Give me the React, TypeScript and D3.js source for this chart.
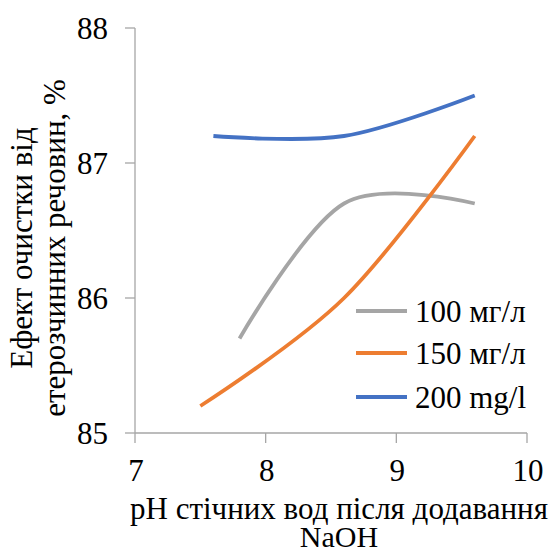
import React from "react";
import * as d3 from "d3";

const xTicks = [7, 8, 9, 10];
const yTicks = [85, 86, 87, 88];

const seriesNames = ["100 мг/л", "150 мг/л", "200 mg/l"];
const seriesColors = ["#A5A5A5", "#ED7D31", "#4472C4"];

const phGray = [7.8, 8.6, 9.6];
const valGray = [85.7, 86.7, 86.7];
const phOrange = [7.5, 8.6, 9.6];
const valOrange = [85.2, 86.0, 87.2];
const phBlue = [7.6, 8.6, 9.6];
const valBlue = [87.2, 87.2, 87.5];

const xTitle = ["pH стічних вод після додавання", "NaOH"];
const yTitle = ["Ефект очистки від", "етерозчинних речовин, %"];

const W = 556;
const H = 550;
const left = 135;
const right = 527;
const top = 28;
const bottom = 433;
const font = '"Liberation Serif", Tinos, "Times New Roman", "DejaVu Serif", serif';
const axisColor = "#A6A6A6";

const tStyle: React.CSSProperties = { fontFamily: font, fontSize: 31, fill: "#000" };

export default function App() {
  const x = d3.scaleLinear().domain([7, 10]).range([left, right]);
  const y = d3.scaleLinear().domain([85, 88]).range([bottom, top]);
  const line = d3
    .line<[number, number]>()
    .x((d) => x(d[0]))
    .y((d) => y(d[1]))
    .curve(d3.curveCardinal.tension(0));

  const series = [
    phGray.map((p, i) => [p, valGray[i]] as [number, number]),
    phOrange.map((p, i) => [p, valOrange[i]] as [number, number]),
    phBlue.map((p, i) => [p, valBlue[i]] as [number, number]),
  ];

  const legendX = 356;
  const legendY = [311, 353, 397];

  return (
    <svg
      width={W}
      height={H}
      style={{ position: "absolute", left: 0, top: 0, background: "#fff" }}
    >
      <rect x={0} y={0} width={W} height={H} fill="#fff" />
      <line x1={left} x2={left} y1={top} y2={bottom} stroke={axisColor} strokeWidth={1.3} />
      <line x1={left} x2={right} y1={bottom} y2={bottom} stroke={axisColor} strokeWidth={1.3} />
      {yTicks.map((t) => (
        <g key={"y" + t}>
          <line x1={left - 10} x2={left} y1={y(t)} y2={y(t)} stroke={axisColor} strokeWidth={1.3} />
          <text x={108} y={y(t) + 11} textAnchor="end" style={tStyle}>
            {t}
          </text>
        </g>
      ))}
      {xTicks.map((t) => (
        <g key={"x" + t}>
          <line x1={x(t)} x2={x(t)} y1={bottom} y2={bottom + 10} stroke={axisColor} strokeWidth={1.3} />
          <text x={x(t) + 1} y={481} textAnchor="middle" style={tStyle}>
            {t}
          </text>
        </g>
      ))}
      {series.map((s, i) => (
        <path
          key={"s" + i}
          d={line(s) || ""}
          fill="none"
          stroke={seriesColors[i]}
          strokeWidth={3.8}
        />
      ))}
      {seriesNames.map((n, i) => (
        <g key={"l" + i}>
          <line
            x1={legendX}
            x2={legendX + 51}
            y1={legendY[i]}
            y2={legendY[i]}
            stroke={seriesColors[i]}
            strokeWidth={3.8}
          />
          <text x={415} y={legendY[i] + 11} style={tStyle}>
            {n}
          </text>
        </g>
      ))}
      <text x={339} y={519} textAnchor="middle" style={tStyle}>
        {xTitle[0]}
      </text>
      <text x={339} y={547} textAnchor="middle" style={{ ...tStyle, fontSize: 30 }}>
        {xTitle[1]}
      </text>
      <g transform="translate(0,248) rotate(-90)">
        <text x={0} y={32} textAnchor="middle" style={tStyle}>
          {yTitle[0]}
        </text>
        <text x={0} y={65} textAnchor="middle" style={tStyle}>
          {yTitle[1]}
        </text>
      </g>
    </svg>
  );
}
